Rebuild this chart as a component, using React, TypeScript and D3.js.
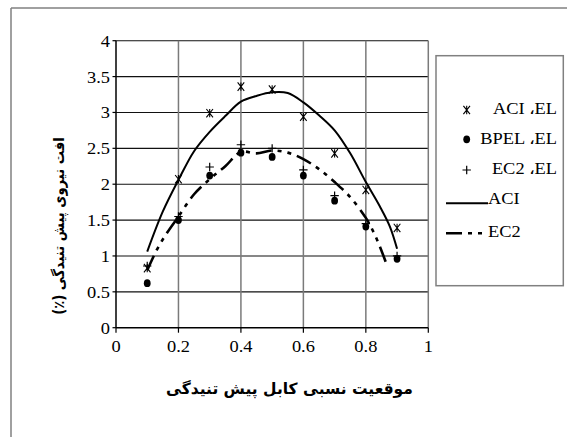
import React from "react";
import * as d3 from "d3";

const positions = [0.1, 0.2, 0.3, 0.4, 0.5, 0.6, 0.7, 0.8, 0.9];
const aciEL = [0.83, 2.07, 2.99, 3.36, 3.32, 2.94, 2.43, 1.92, 1.39];
const bpelEL = [0.62, 1.5, 2.12, 2.44, 2.38, 2.12, 1.77, 1.41, 0.96];
const ec2EL = [0.86, 1.55, 2.24, 2.55, 2.5, 2.2, 1.84, 1.45, 1.0];

const aciCurveX = [0.1, 0.15, 0.2, 0.25, 0.3, 0.35, 0.4, 0.45, 0.5, 0.55, 0.6, 0.65, 0.7, 0.75, 0.8, 0.845, 0.877, 0.9];
const aciCurveY = [1.06, 1.62, 2.06, 2.46, 2.73, 2.95, 3.15, 3.23, 3.28, 3.27, 3.14, 2.96, 2.75, 2.43, 2.03, 1.69, 1.41, 1.1];

const ec2CurveX = [0.1, 0.13, 0.16, 0.2, 0.25, 0.3, 0.35, 0.4, 0.45, 0.5, 0.55, 0.6, 0.65, 0.7, 0.75, 0.8, 0.825, 0.845, 0.865];
const ec2CurveY = [0.8, 1.08, 1.3, 1.55, 1.86, 2.07, 2.25, 2.45, 2.43, 2.47, 2.44, 2.35, 2.21, 2.03, 1.82, 1.53, 1.33, 1.13, 0.9];

const xTicks = [0, 0.2, 0.4, 0.6, 0.8, 1];
const yTicks = [0, 0.5, 1, 1.5, 2, 2.5, 3, 3.5, 4];
const xTickLabels = ["0", "0.2", "0.4", "0.6", "0.8", "1"];
const yTickLabels = ["0", "0.5", "1", "1.5", "2", "2.5", "3", "3.5", "4"];

const legendLabels = ["ACI ،EL", "BPEL ،EL", "EC2 ،EL", "ACI", "EC2"];
const xTitle = "موقعیت نسبی کابل پیش تنیدگی";
const yTitle = "افت نیروی پیش تنیدگی (٪)";

const W = 575;
const H = 437;
const serif = '"Liberation Serif", "Times New Roman", "DejaVu Serif", serif';
const arabicFont = '"DejaVu Sans", sans-serif';
const SX = 1.15;
const FS = 16;
const DASH = "16,6,4,6,4,6";

function T({ x, y, anchor = "start", children }: { x: number; y: number; anchor?: string; children: React.ReactNode }) {
  return (
    <text
      transform={`translate(${x},${y}) scale(${SX},1)`}
      textAnchor={anchor as any}
      style={{ fontFamily: serif, fontSize: FS }}
      fill="#000"
    >
      {children}
    </text>
  );
}

function Asterisk({ x, y }: { x: number; y: number }) {
  const a = 3.3;
  const b = 4.2;
  return (
    <path
      d={`M${x - a},${y - b}L${x + a},${y + b}M${x + a},${y - b}L${x - a},${y + b}M${x},${y - b}L${x},${y + b}`}
      stroke="#000"
      strokeWidth={1.1}
      fill="none"
    />
  );
}

function Plus({ x, y }: { x: number; y: number }) {
  const s = 4.2;
  return (
    <path d={`M${x - s},${y}L${x + s},${y}M${x},${y - s}L${x},${y + s}`} stroke="#000" strokeWidth={1.2} fill="none" />
  );
}

function Dot({ x, y }: { x: number; y: number }) {
  return <ellipse cx={x} cy={y} rx={3.4} ry={3.9} fill="#000" />;
}

export default function App() {
  const x = d3.scaleLinear().domain([0, 1]).range([116, 428.3]);
  const y = d3.scaleLinear().domain([0, 4]).range([327.7, 40.7]);

  const line = d3
    .line<[number, number]>()
    .x((d) => x(d[0]))
    .y((d) => y(d[1]))
    .curve(d3.curveCatmullRom.alpha(0.5));

  const aciPts = aciCurveX.map((v, i) => [v, aciCurveY[i]] as [number, number]);
  const ec2Pts = ec2CurveX.map((v, i) => [v, ec2CurveY[i]] as [number, number]);

  const legendTextYs = [113.5, 143.5, 173.5, 204, 236.5];

  return (
    <svg
      width={W}
      height={H}
      viewBox={`0 0 ${W} ${H}`}
      style={{ position: "absolute", left: 0, top: 0, background: "#fff" }}
    >
      <rect x={0} y={0} width={W} height={H} fill="#fff" />
      {/* outer frame */}
      <line x1={11} y1={8} x2={567} y2={8} stroke="#808080" strokeWidth={1.5} />
      <line x1={11} y1={8} x2={11} y2={H} stroke="#808080" strokeWidth={1.5} />

      {/* grid */}
      {yTicks.slice(1).map((t) => (
        <line key={"h" + t} x1={x(0)} x2={x(1)} y1={y(t)} y2={y(t)} stroke="#111" strokeWidth={1.1} />
      ))}
      {xTicks.slice(1).map((t) => (
        <line key={"v" + t} x1={x(t)} x2={x(t)} y1={y(0)} y2={y(4)} stroke="#7a7a7a" strokeWidth={1.5} />
      ))}

      {/* axes */}
      <line x1={x(0)} x2={x(0)} y1={y(0)} y2={y(4)} stroke="#000" strokeWidth={1.5} />
      <line x1={x(0)} x2={x(1)} y1={y(0)} y2={y(0)} stroke="#000" strokeWidth={1.5} />
      {yTicks.map((t) => (
        <line key={"yt" + t} x1={x(0) - 3.5} x2={x(0)} y1={y(t)} y2={y(t)} stroke="#000" strokeWidth={1.2} />
      ))}
      {xTicks.map((t) => (
        <line key={"xt" + t} x1={x(t)} x2={x(t)} y1={y(0)} y2={y(0) + 5} stroke="#000" strokeWidth={1.2} />
      ))}

      {/* tick labels */}
      {yTicks.map((t, i) => (
        <T key={"yl" + t} x={110} y={y(t) + 6} anchor="end">
          {yTickLabels[i]}
        </T>
      ))}
      {xTicks.map((t, i) => (
        <T key={"xl" + t} x={x(t)} y={352} anchor="middle">
          {xTickLabels[i]}
        </T>
      ))}

      {/* curves */}
      <path d={line(aciPts) || ""} fill="none" stroke="#000" strokeWidth={2} />
      <path d={line(ec2Pts) || ""} fill="none" stroke="#000" strokeWidth={2.6} strokeDasharray={DASH} />

      {/* points */}
      {positions.map((p, i) => (
        <Asterisk key={"a" + i} x={x(p)} y={y(aciEL[i])} />
      ))}
      {positions.map((p, i) => (
        <Plus key={"p" + i} x={x(p)} y={y(ec2EL[i])} />
      ))}
      {positions.map((p, i) => (
        <Dot key={"b" + i} x={x(p)} y={y(bpelEL[i])} />
      ))}

      {/* axis titles */}
      <text
        x={289.5}
        y={394}
        textAnchor="middle"
        direction="rtl"
        style={{ fontFamily: arabicFont, fontWeight: "bold", fontSize: 15.5 }}
        fill="#000"
      >
        {xTitle}
      </text>
      <text
        transform="translate(64,226) rotate(-90) scale(0.88,1)"
        textAnchor="middle"
        direction="rtl"
        style={{ fontFamily: arabicFont, fontWeight: "bold", fontSize: 15 }}
        fill="#000"
      >
        {yTitle}
      </text>

      {/* legend */}
      <rect x={436} y={55.7} width={127.3} height={230} fill="#fff" stroke="#808080" strokeWidth={1.5} />
      <Asterisk x={466.7} y={110} />
      <Dot x={466.7} y={139.3} />
      <Plus x={466.7} y={170} />
      <T x={557} y={legendTextYs[0]} anchor="end">
        {legendLabels[0]}
      </T>
      <T x={557} y={legendTextYs[1]} anchor="end">
        {legendLabels[1]}
      </T>
      <T x={557} y={legendTextYs[2]} anchor="end">
        {legendLabels[2]}
      </T>
      <line x1={446} x2={488} y1={203.3} y2={203.3} stroke="#000" strokeWidth={2} />
      <T x={488} y={legendTextYs[3]}>
        {legendLabels[3]}
      </T>
      <line x1={446} x2={488} y1={233.3} y2={233.3} stroke="#000" strokeWidth={2.6} strokeDasharray={DASH} />
      <T x={488} y={legendTextYs[4]}>
        {legendLabels[4]}
      </T>
    </svg>
  );
}
